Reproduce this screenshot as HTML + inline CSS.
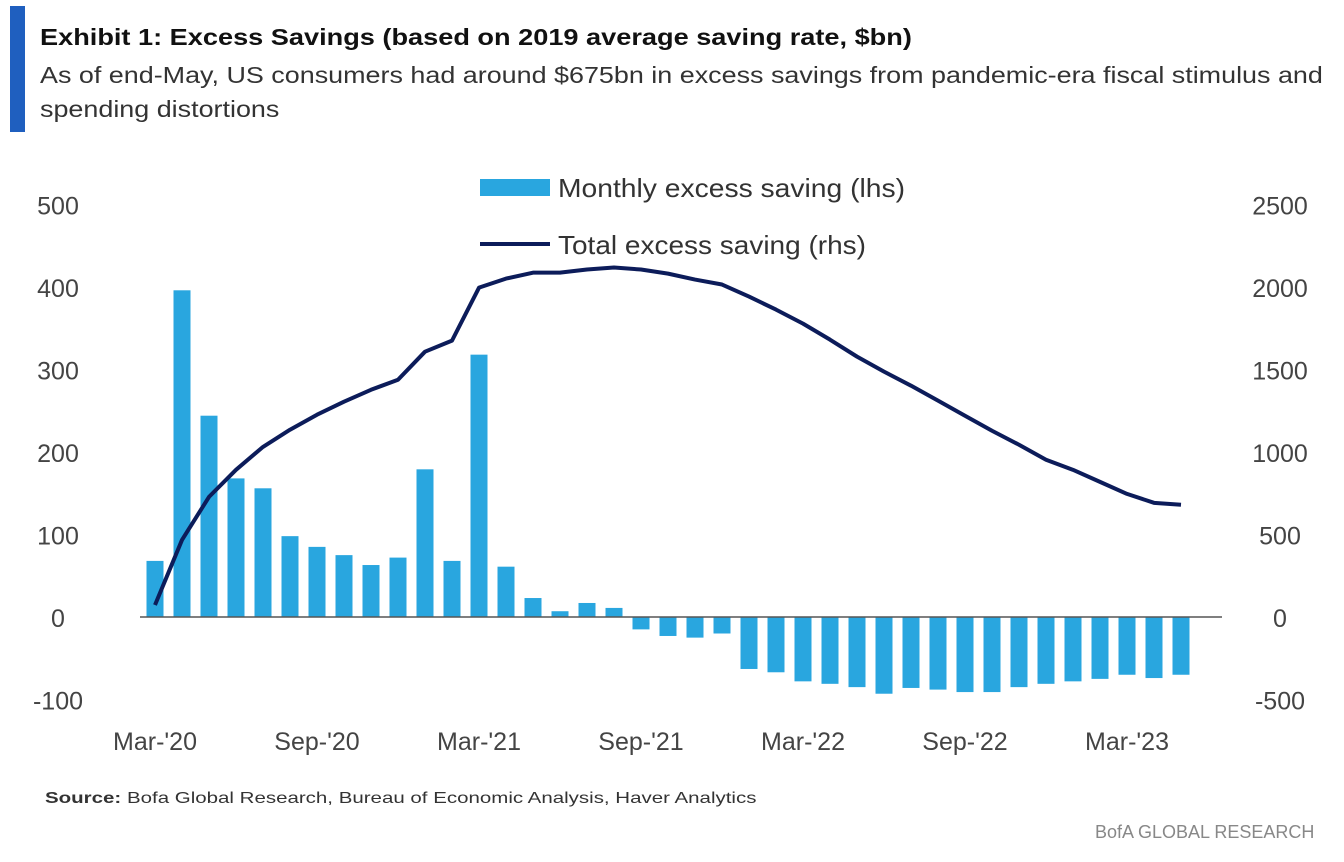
<!DOCTYPE html>
<html><head><meta charset="utf-8"><style>
body{margin:0;background:#fff;font-family:"Liberation Sans",sans-serif;}
#wrap{position:relative;width:1344px;height:862px;overflow:hidden;}
.t{position:absolute;white-space:nowrap;transform-origin:0 0;}
</style></head><body>
<div id="wrap">
<div style="position:absolute;left:10px;top:6px;width:15px;height:126px;background:#1f5fbf"></div>
<div class="t" style="left:40px;top:24px;font-size:23px;font-weight:bold;color:#111;transform:scaleX(1.18)">Exhibit 1: Excess Savings (based on 2019 average saving rate, $bn)</div>
<div class="t" style="left:40px;top:58px;font-size:23px;color:#333;line-height:34px;transform:scaleX(1.17)">As of end-May, US consumers had around $675bn in excess savings from pandemic-era fiscal stimulus and<br>spending distortions</div>
<svg id="chart" width="1344" height="862" style="position:absolute;left:0;top:0"></svg>
<div class="t" style="left:45px;top:790px;font-size:16px;color:#333;transform:scaleX(1.28)"><b>Source:</b> Bofa Global Research, Bureau of Economic Analysis, Haver Analytics</div>
<div class="t" style="left:1095px;top:822px;font-size:18px;color:#888">BofA GLOBAL RESEARCH</div>
</div>
<script>
const months=["Mar-20","Apr-20","May-20","Jun-20","Jul-20","Aug-20","Sep-20","Oct-20","Nov-20","Dec-20","Jan-21","Feb-21","Mar-21","Apr-21","May-21","Jun-21","Jul-21","Aug-21","Sep-21","Oct-21","Nov-21","Dec-21","Jan-22","Feb-22","Mar-22","Apr-22","May-22","Jun-22","Jul-22","Aug-22","Sep-22","Oct-22","Nov-22","Dec-22","Jan-23","Feb-23","Mar-23","Apr-23","May-23"];
const monthly=[68,396,244,168,156,98,85,75,63,72,179,68,318,61,23,7,17,11,-15,-23,-25,-20,-63,-67,-78,-81,-85,-93,-86,-88,-91,-91,-85,-81,-78,-75,-70,-74,-70];
const total=[73,467,728,892,1031,1135,1226,1305,1377,1438,1608,1675,1996,2051,2087,2087,2106,2118,2106,2081,2045,2015,1942,1863,1778,1681,1578,1487,1402,1311,1220,1129,1044,953,892,819,746,692,680];
const leftTicks=[500,400,300,200,100,0,-100];
const rightTicks=[2500,2000,1500,1000,500,0,-500];
const xTickLabels=["Mar-'20","Sep-'20","Mar-'21","Sep-'21","Mar-'22","Sep-'22","Mar-'23"];
const xTickIdx=[0,6,12,18,24,30,36];
const NS="http://www.w3.org/2000/svg";
const svg=document.getElementById('chart');
const y0=617, pxL=0.825, pxR=0.165;
const yL=v=>y0-v*pxL, yR=v=>y0-v*pxR;
const x=i=>155+i*27;
function mk(t,a){const e=document.createElementNS(NS,t);for(const k in a)e.setAttribute(k,a[k]);svg.appendChild(e);return e;}
leftTicks.forEach(v=>{const e=mk('text',{x:58,y:yL(v)+10,'text-anchor':'middle','font-size':25,fill:'#444','font-family':'Liberation Sans'});e.textContent=v;

});
rightTicks.forEach(v=>{const e=mk('text',{x:1280,y:yR(v)+10,'text-anchor':'middle','font-size':25,fill:'#444','font-family':'Liberation Sans'});e.textContent=v;

});
xTickIdx.forEach((i,k)=>{const e=mk('text',{x:x(i),y:750,'text-anchor':'middle','font-size':25,fill:'#444','font-family':'Liberation Sans'});e.textContent=xTickLabels[k];

});
monthly.forEach((v,i)=>{const r=mk('rect',{x:x(i)-8.5,y:Math.min(yL(v),y0),width:17,height:Math.abs(yL(v)-y0),fill:'#29a6df'});

});
const ax=mk('line',{x1:140,x2:1222,y1:y0,y2:y0,stroke:'#555','stroke-width':1.5});


const p=mk('polyline',{points:total.map((v,i)=>x(i)+','+yR(v)).join(' '),fill:'none',stroke:'#0c1c5a','stroke-width':4,'stroke-linejoin':'round'});


const l1=mk('rect',{x:480,y:179,width:70,height:17,fill:'#29a6df'});


const t1=mk('text',{x:558,y:197,'font-size':26,fill:'#333','font-family':'Liberation Sans',textLength:347,lengthAdjust:'spacingAndGlyphs'});t1.textContent='Monthly excess saving (lhs)';


const l2=mk('line',{x1:480,x2:550,y1:244,y2:244,stroke:'#0c1c5a','stroke-width':4});


const t2=mk('text',{x:558,y:254,'font-size':26,fill:'#333','font-family':'Liberation Sans',textLength:308,lengthAdjust:'spacingAndGlyphs'});t2.textContent='Total excess saving (rhs)';


</script>
</body></html>
